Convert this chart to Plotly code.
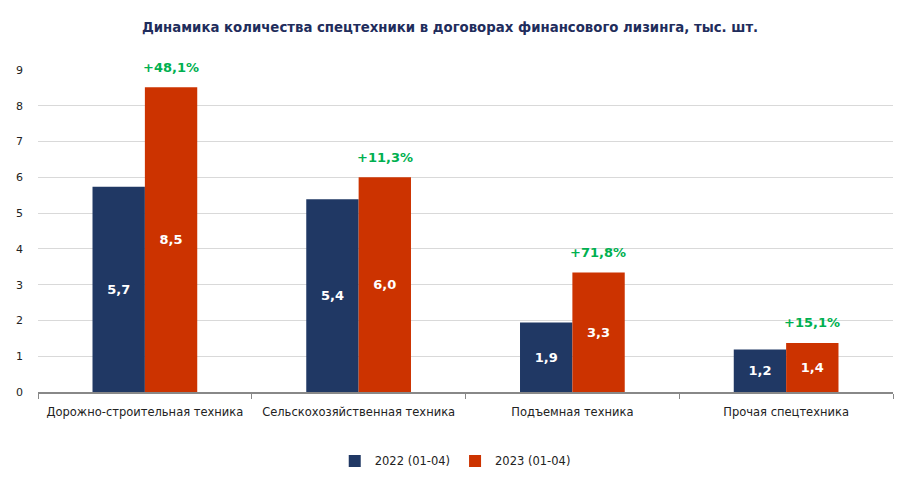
import plotly.graph_objects as go

categories = ["Дорожно-строительная техника", "Сельскохозяйственная техника",
              "Подъемная техника", "Прочая спецтехника"]
values_2022 = [5.74, 5.39, 1.94, 1.19]
values_2023 = [8.52, 6.0, 3.34, 1.37]
labels_2022 = ["5,7", "5,4", "1,9", "1,2"]
labels_2023 = ["8,5", "6,0", "3,3", "1,4"]
growth = ["+48,1%", "+11,3%", "+71,8%", "+15,1%"]

FONT = "DejaVu Sans"
BLUE = "#203864"
RED = "#CC3300"
GREEN = "#00B050"

fig = go.Figure()
fig.add_trace(go.Bar(x=categories, y=values_2022, name="2022 (01-04)", marker_color=BLUE,
                     marker_line_width=0,
                     text=labels_2022, textposition="inside", insidetextanchor="middle",
                     textfont=dict(color="white", size=13, family=FONT, weight="bold"),
                     textangle=0))
fig.add_trace(go.Bar(x=categories, y=values_2023, name="2023 (01-04)", marker_color=RED,
                     marker_line_width=0,
                     text=labels_2023, textposition="inside", insidetextanchor="middle",
                     textfont=dict(color="white", size=13, family=FONT, weight="bold"),
                     textangle=0))

for cat, v, g in zip(categories, values_2023, growth):
    fig.add_annotation(x=cat, y=v, text=g, showarrow=False, xshift=26, yshift=20,
                       font=dict(color=GREEN, size=13, family=FONT, weight="bold"))

fig.update_layout(
    width=919, height=483,
    paper_bgcolor="white", plot_bgcolor="white",
    margin=dict(l=30, r=34, t=62, b=99, autoexpand=False),
    barmode="group", bargap=0.51, bargroupgap=0,
    font=dict(family=FONT, size=11, color="#222222"),
    title=dict(text="Динамика количества спецтехники в договорах финансового лизинга, тыс. шт.",
               x=0.481, xanchor="center", y=1 - 19 / 483, yanchor="middle",
               xref="container",
               font=dict(size=13.3, color="#1F2D5C", family=FONT, weight="bold")),
    legend=dict(orientation="h", x=0.488, xanchor="center", y=-0.214, yanchor="middle",
                font=dict(size=11.5, family=FONT), itemwidth=30, traceorder="normal"),
    showlegend=True,
)
fig.update_xaxes(showline=True, linecolor="#888888", linewidth=1.5,
                 ticks="outside", tickson="boundaries", ticklen=5, tickcolor="#888888",
                 ticklabelstandoff=8,
                 tickfont=dict(size=11.5, color="#222222"))
fig.update_yaxes(range=[0, 9], dtick=1, showgrid=True, gridcolor="#D9D9D9", gridwidth=1,
                 zeroline=False, showline=False, ticks="", ticklabelstandoff=14,
                 tickfont=dict(size=11, color="#222222"))

fig.write_html("out.html")
